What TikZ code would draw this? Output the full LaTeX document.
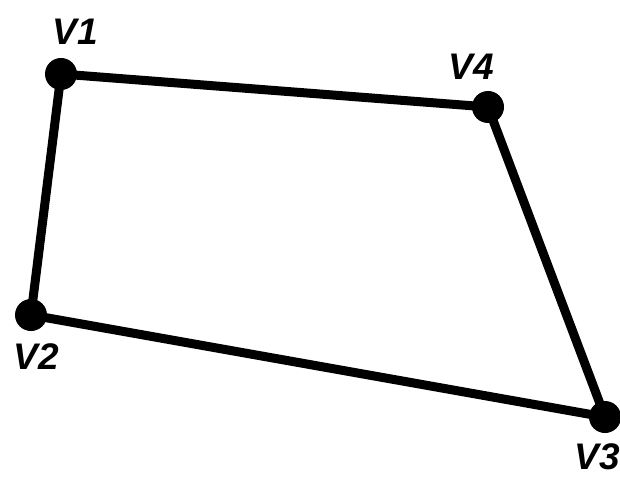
\documentclass[tikz,border=0pt]{standalone}
\usepackage{fontspec}
\setmainfont{Liberation Sans}
\begin{document}
\begin{tikzpicture}[x=1pt,y=-1pt,
  vtx/.style={circle,fill=black,inner sep=0pt,minimum size=32pt},
  lbl/.style={font=\fontsize{37}{40}\selectfont\bfseries\itshape,inner sep=0pt},
  edge/.style={line width=9pt,black}]
\useasboundingbox (0,0) rectangle (620,478);
\node[vtx] (v1) at (61,74) {};
\node[vtx] (v4) at (488,107) {};
\node[vtx] (v2) at (31,315) {};
\node[vtx] (v3) at (605,417) {};
\draw[edge] (v1.center) -- (v4.center) -- (v3.center) -- (v2.center) -- cycle;
\node[lbl] (l1) at (75,32) {V1};
\node[lbl] (l4) at (471,67) {V4};
\node[lbl] (l2) at (36,357) {V2};
\node[lbl] (l3) at (597,457) {V3};
\end{tikzpicture}
\end{document}
